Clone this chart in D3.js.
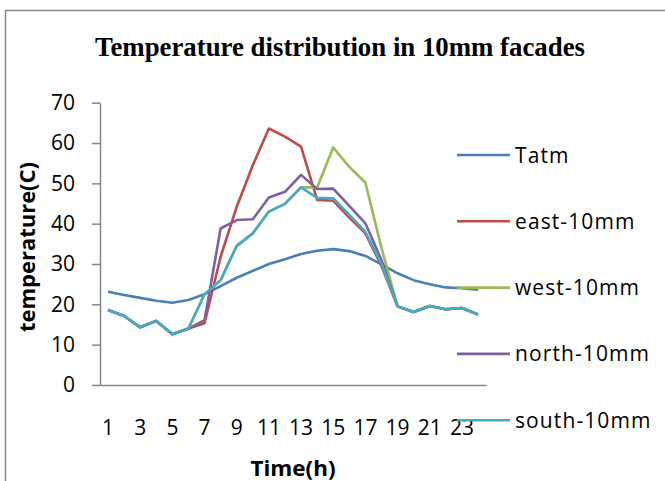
<!DOCTYPE html>
<html>
<head>
<meta charset="utf-8">
<script src="https://cdn.jsdelivr.net/npm/d3@7"></script>
<style>
  html, body { margin: 0; padding: 0; background: #fff; }
  svg { display: block; }
</style>
</head>
<body>
<svg id="chart" width="665" height="481"></svg>
<script>
// Hourly temperatures (°C) over one day
const hours = [1, 2, 3, 4, 5, 6, 7, 8, 9, 10, 11, 12, 13, 14, 15, 16, 17, 18, 19, 20, 21, 22, 23, 24];
const tatm  = [23.1, 22.3, 21.6, 20.9, 20.4, 21.1, 22.5, 24.5, 26.6, 28.3, 30.0, 31.2, 32.5, 33.3, 33.7, 33.2, 32.0, 29.9, 27.7, 26.0, 25.0, 24.2, 24.0, 23.6];
const east  = [18.6, 17.1, 14.3, 15.9, 12.6, 14.0, 15.3, 31.8, 44.2, 54.5, 63.6, 61.6, 59.1, 45.9, 45.7, 41.5, 37.6, 29.5, 19.5, 18.1, 19.6, 18.8, 19.1, 17.5];
const west  = [18.6, 17.1, 14.3, 15.9, 12.6, 14.0, 22.5, 26.0, 34.5, 37.6, 43.0, 44.9, 49.0, 49.0, 58.9, 54.1, 50.2, 34.0, 19.5, 18.1, 19.6, 18.8, 19.1, 17.5];
const north = [18.6, 17.1, 14.3, 15.9, 12.6, 14.0, 16.1, 38.8, 40.9, 41.1, 46.5, 47.9, 52.1, 48.6, 48.7, 44.4, 40.1, 31.0, 19.5, 18.1, 19.6, 18.8, 19.1, 17.5];
const south = [18.6, 17.1, 14.3, 15.9, 12.6, 14.0, 22.5, 26.0, 34.5, 37.6, 43.0, 44.9, 49.0, 46.4, 46.3, 42.2, 38.0, 30.0, 19.5, 18.1, 19.6, 18.8, 19.1, 17.5];

const seriesNames = ["Tatm", "east-10mm", "west-10mm", "north-10mm", "south-10mm"];
const seriesValues = [tatm, east, west, north, south];
const seriesColors = ["#4a7ebb", "#be4b48", "#98b954", "#7d60a0", "#46aac5"];

const yTicks = [0, 10, 20, 30, 40, 50, 60, 70];
const xTickLabels = [1, 3, 5, 7, 9, 11, 13, 15, 17, 19, 21, 23];

const svg = d3.select("#chart");
const axisColor = "#868686";
const labelFont = "'Open Sans', 'Noto Sans', sans-serif";

// outer chart frame (left and top edges)
svg.append("path")
  .attr("d", "M5.5,481 L5.5,10.5 L665,10.5")
  .attr("fill", "none")
  .attr("stroke", axisColor)
  .attr("stroke-width", 1.5);

// title
svg.append("text")
  .attr("x", 340).attr("y", 56)
  .attr("text-anchor", "middle")
  .attr("font-family", "'Liberation Serif', 'Times New Roman', serif")
  .attr("font-weight", "bold")
  .attr("font-size", 27)
  .attr("textLength", 490)
  .attr("lengthAdjust", "spacingAndGlyphs")
  .text("Temperature distribution in 10mm facades");

const plot = { left: 100, right: 486, top: 102.7, bottom: 385 };

const x = d3.scaleBand().domain(hours).range([plot.left, plot.right]);
const xc = h => x(h) + x.bandwidth() / 2;
const y = d3.scaleLinear().domain([0, 70]).range([plot.bottom, plot.top]);

// y axis
const yAxis = svg.append("g")
  .attr("transform", `translate(${plot.left},0)`)
  .call(d3.axisLeft(y).tickValues(yTicks).tickSize(8).tickPadding(17).tickSizeOuter(0));
yAxis.select(".domain").attr("stroke", axisColor).attr("stroke-width", 1.5);
yAxis.selectAll(".tick line").attr("stroke", axisColor).attr("stroke-width", 1.5);
yAxis.selectAll(".tick text")
  .attr("font-family", labelFont).attr("font-size", 21).attr("fill", "#000");

// x axis
const xAxis = svg.append("g")
  .attr("transform", `translate(0,${plot.bottom})`)
  .call(d3.axisBottom(x).tickValues(xTickLabels).tickSize(0).tickPadding(50).tickSizeOuter(0));
xAxis.select(".domain").attr("stroke", axisColor).attr("stroke-width", 1.5);
xAxis.selectAll(".tick text")
  .attr("font-family", labelFont).attr("font-size", 21).attr("fill", "#000")
  .attr("dy", 0);

// axis titles
svg.append("text")
  .attr("transform", "translate(35,247) rotate(-90)")
  .attr("text-anchor", "middle")
  .attr("font-family", labelFont).attr("font-weight", "bold").attr("font-size", 22)
  .attr("textLength", 170)
  .attr("lengthAdjust", "spacingAndGlyphs")
  .text("temperature(C)");

svg.append("text")
  .attr("x", 293).attr("y", 476)
  .attr("text-anchor", "middle")
  .attr("font-family", labelFont).attr("font-weight", "bold").attr("font-size", 22)
  .attr("textLength", 85)
  .attr("lengthAdjust", "spacingAndGlyphs")
  .text("Time(h)");

// series lines
const line = d3.line().x((d, i) => xc(hours[i])).y(d => y(d));
seriesValues.forEach((vals, k) => {
  svg.append("path")
    .datum(vals)
    .attr("d", line)
    .attr("fill", "none")
    .attr("stroke", seriesColors[k])
    .attr("stroke-width", 2.6)
    .attr("stroke-linejoin", "round");
});

// legend
const legend = svg.append("g").attr("transform", "translate(457,155)");
seriesNames.forEach((name, k) => {
  const g = legend.append("g").attr("transform", `translate(0,${k * 66.3})`);
  g.append("line")
    .attr("x1", 0).attr("x2", 53).attr("y1", 0).attr("y2", 0)
    .attr("stroke", seriesColors[k]).attr("stroke-width", 2.6);
  g.append("text")
    .attr("x", 58).attr("y", 7.5)
    .attr("font-family", labelFont).attr("font-size", 21).attr("fill", "#000")
    .attr("letter-spacing", 1.1)
    .text(name);
});
</script>
</body>
</html>
